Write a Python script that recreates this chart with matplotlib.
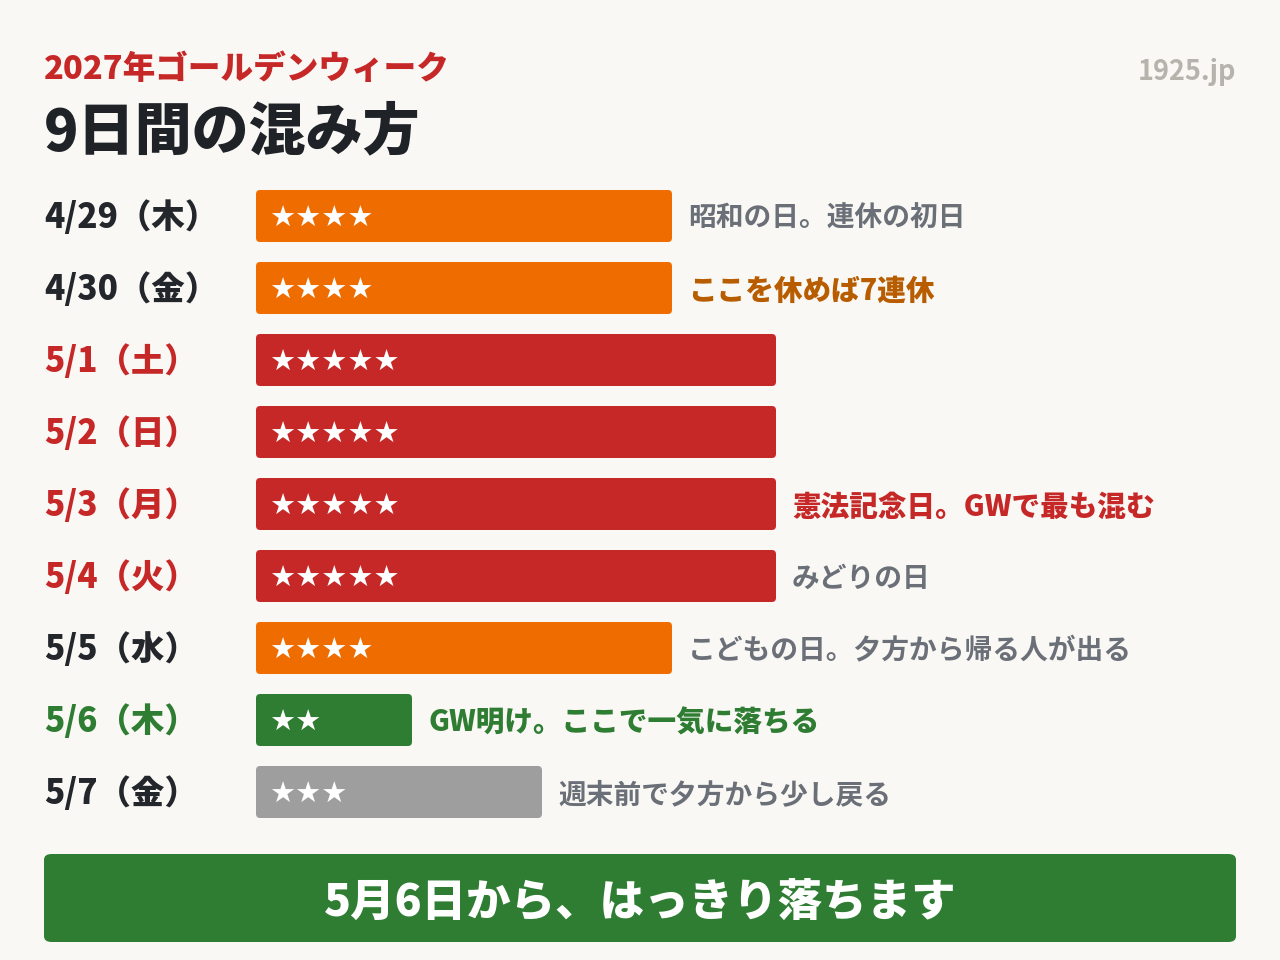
import matplotlib
matplotlib.use("Agg")
import matplotlib.pyplot as plt
from matplotlib.patches import FancyBboxPatch

plt.rcParams['font.family'] = ['Noto Sans CJK JP', 'DejaVu Sans']

days = ["4/29（木）", "4/30（金）", "5/1（土）", "5/2（日）", "5/3（月）",
        "5/4（火）", "5/5（水）", "5/6（木）", "5/7（金）"]
crowd = [80, 80, 100, 100, 100, 100, 80, 30, 55]
stars = [4, 4, 5, 5, 5, 5, 4, 2, 3]
notes = ["昭和の日。連休の初日", "ここを休めば7連休", "", "", "憲法記念日。GWで最も混む",
         "みどりの日", "こどもの日。夕方から帰る人が出る", "GW明け。ここで一気に落ちる",
         "週末前で夕方から少し戻る"]
bar_colors = ["#ef6c00", "#ef6c00", "#c62828", "#c62828", "#c62828",
              "#c62828", "#ef6c00", "#2e7d32", "#9e9e9e"]
day_colors = ["#23262b", "#23262b", "#c62828", "#c62828", "#c62828",
              "#c62828", "#23262b", "#2e7d32", "#23262b"]
note_colors = ["#6b7078", "#b85c00", "#6b7078", "#6b7078", "#c62828",
               "#6b7078", "#6b7078", "#2e7d32", "#6b7078"]
note_bold = [False, True, False, False, True, False, False, True, False]

bg = "#f9f8f4"
W, H = 1280, 960
fig = plt.figure(figsize=(12.8, 9.6), dpi=100, facecolor=bg)

# bar area in pixels: x 256..776, rows centred 216..792 step 72
ax = fig.add_axes([256 / W, 1 - 828 / H, 520 / W, 648 / H])
ax.set_xlim(0, 100)
ax.set_ylim(len(days) - 0.5, -0.5)
ax.axis("off")

asp = (648 / 9) / (520 / 100)
for i, v in enumerate(crowd):
    h = 52 / 72
    p = FancyBboxPatch((0, i - h / 2), v, h,
                       boxstyle="round,pad=0,rounding_size=0.8",
                       mutation_aspect=1 / asp, fc=bar_colors[i], ec="none",
                       clip_on=False)
    ax.add_patch(p)
    ax.annotate("★" * stars[i], (0, i), xytext=(13, -3), textcoords="offset pixels",
                color="white", fontsize=21, va="center", ha="left",
                family=['DejaVu Sans'])
    ax.annotate(days[i], (0, i), xytext=(-212, -2), textcoords="offset pixels",
                color=day_colors[i], fontsize=24, fontweight="heavy",
                va="center", ha="left", annotation_clip=False)
    if notes[i]:
        ax.annotate(notes[i], (v, i), xytext=(16, -3), textcoords="offset pixels",
                    color=note_colors[i],
                    fontsize=20.6 if note_bold[i] else 20,
                    fontweight="heavy" if note_bold[i] else "bold",
                    va="center", ha="left", annotation_clip=False)

fig.text(44 / W, 1 - 69 / H, "2027年ゴールデンウィーク", color="#c62828",
         fontsize=23.5, fontweight="heavy", va="center", ha="left")
fig.text(44 / W, 1 - 133 / H, "9日間の混み方", color="#1f2328",
         fontsize=41, fontweight="heavy", va="center", ha="left")
fig.text(1236 / W, 1 - 72 / H, "1925.jp", color="#b5b3ab",
         fontsize=19.5, fontweight="bold", va="center", ha="right")

fig.patches.append(FancyBboxPatch((44 / W, 1 - 942 / H), 1192 / W, 88 / H,
                                  boxstyle="round,pad=0,rounding_size=0.006",
                                  transform=fig.transFigure, fc="#2e7d32", ec="none"))
fig.text(640 / W, 1 - 902 / H, "5月6日から、はっきり落ちます", color="white",
         fontsize=32, fontweight="heavy", va="center", ha="center")

fig.savefig("out.png", dpi=100, facecolor=bg)
